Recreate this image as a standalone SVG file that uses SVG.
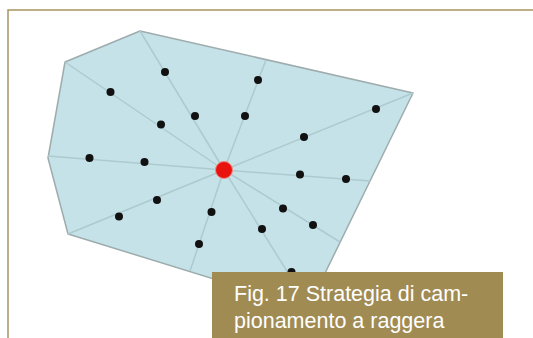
<svg xmlns="http://www.w3.org/2000/svg" width="533" height="338" viewBox="0 0 533 338">
<style>
.frame{fill:none;stroke:#a89460;stroke-width:1.5}
.area{fill:#c4e2e7;stroke:#9eacad;stroke-width:1.5;stroke-linejoin:round}
.ray{stroke:#adcacf;stroke-width:1.5;fill:none}
.pt{fill:#111}
.center{fill:#e8120e;stroke:#f08a80;stroke-width:1}
.cap{fill:#a08b53}
.captxt{font-family:"Liberation Sans",Arial,Helvetica,sans-serif;font-size:21.5px;fill:#ffffff}
</style>
<rect width="533" height="338" fill="#ffffff"/>
<path class="frame" d="M8 338 V10 H533"/>
<polygon class="area" points="140,31 413,93 308,308 68,234 48,158 65,62"/>
<g id="connectors">
<line class="ray" x1="224" y1="170" x2="140" y2="31"/>
<line class="ray" x1="224" y1="170" x2="266" y2="60"/>
<line class="ray" x1="224" y1="170" x2="65" y2="62"/>
<line class="ray" x1="224" y1="170" x2="413" y2="93"/>
<line class="ray" x1="224" y1="170" x2="48" y2="156"/>
<line class="ray" x1="224" y1="170" x2="370" y2="181"/>
<line class="ray" x1="224" y1="170" x2="68" y2="234"/>
<line class="ray" x1="224" y1="170" x2="190" y2="271"/>
<line class="ray" x1="224" y1="170" x2="308" y2="305"/>
<line class="ray" x1="224" y1="170" x2="340" y2="242"/>
</g>
<g id="points">
<circle class="pt" cx="165" cy="72" r="4"/>
<circle class="pt" cx="258" cy="80" r="4"/>
<circle class="pt" cx="110.5" cy="92" r="4"/>
<circle class="pt" cx="376" cy="109" r="4"/>
<circle class="pt" cx="195" cy="116" r="4"/>
<circle class="pt" cx="245" cy="116" r="4"/>
<circle class="pt" cx="161" cy="124.5" r="4"/>
<circle class="pt" cx="304" cy="137" r="4"/>
<circle class="pt" cx="89.5" cy="158" r="4"/>
<circle class="pt" cx="144.5" cy="162" r="4"/>
<circle class="pt" cx="300" cy="174.5" r="4"/>
<circle class="pt" cx="346" cy="179" r="4"/>
<circle class="pt" cx="157" cy="200" r="4"/>
<circle class="pt" cx="119" cy="216.5" r="4"/>
<circle class="pt" cx="211.5" cy="212" r="4"/>
<circle class="pt" cx="283" cy="208.5" r="4"/>
<circle class="pt" cx="313" cy="225" r="4"/>
<circle class="pt" cx="262" cy="229" r="4"/>
<circle class="pt" cx="199" cy="244" r="4"/>
<circle class="pt" cx="291.5" cy="272" r="4"/>
</g>
<g id="center">
<circle class="center" cx="224" cy="170" r="8.5"/>
</g>
<g id="caption">
<rect class="cap" x="212" y="272" width="291" height="66"/>
<text class="captxt" x="234" y="301">Fig. 17 Strategia di cam-</text>
<text class="captxt" x="234" y="328">pionamento a raggera</text>
</g>
</svg>
